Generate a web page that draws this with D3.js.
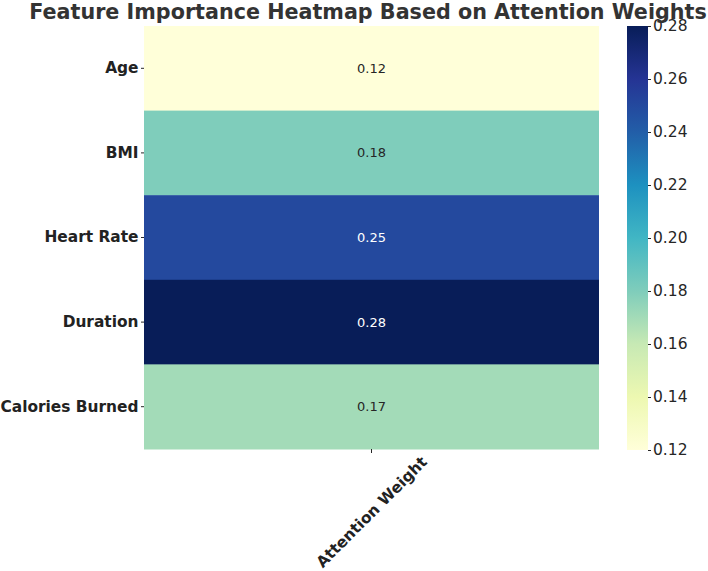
<!DOCTYPE html>
<html>
<head>
<meta charset="utf-8">
<script src="https://cdn.jsdelivr.net/npm/d3@7"></script>
<style>
  body { margin: 0; background: #fff; }
  text { font-family: "DejaVu Sans", sans-serif; }
</style>
</head>
<body>
<svg id="chart" width="708" height="571"></svg>
<script>
const features = ['Age', 'BMI', 'Heart Rate', 'Duration', 'Calories Burned'];
const weights = [0.12, 0.18, 0.25, 0.28, 0.17];
const columns = ['Attention Weight'];
const colorTicks = [0.12, 0.14, 0.16, 0.18, 0.20, 0.22, 0.24, 0.26, 0.28];
const ylgnbu = ['#ffffd9', '#edf8b1', '#c7e9b4', '#7fcdbb', '#41b6c4', '#1d91c0', '#225ea8', '#253494', '#081d58'];

const svg = d3.select('#chart');
const margin = {top: 26, left: 144},
  width = 455,
  height = 423;

const g = svg.append('g').attr('transform', 'translate(' + margin.left + ',' + margin.top + ')');

const vmin = d3.min(weights), vmax = d3.max(weights);
const color = d3.scaleLinear()
  .domain(ylgnbu.map((c, i) => vmin + (vmax - vmin) * i / (ylgnbu.length - 1)))
  .range(ylgnbu)
  .interpolate(d3.interpolateRgb);

const x = d3.scaleBand().domain(columns).range([0, width]);
const y = d3.scaleBand().domain(features).range([0, height]);

g.selectAll('rect.cell')
  .data(features)
  .enter().append('rect')
  .attr('class', 'cell')
  .attr('x', x(columns[0]))
  .attr('y', d => y(d))
  .attr('width', x.bandwidth())
  .attr('height', y.bandwidth() + 0.5)
  .attr('fill', (d, i) => color(weights[i]));

g.selectAll('text.annot')
  .data(features)
  .enter().append('text')
  .attr('class', 'annot')
  .attr('x', x(columns[0]) + x.bandwidth() / 2)
  .attr('y', d => y(d) + y.bandwidth() / 2)
  .attr('dy', '0.35em')
  .attr('text-anchor', 'middle')
  .style('font-size', '13px')
  .attr('fill', (d, i) => (weights[i] - vmin) / (vmax - vmin) > 0.6 ? '#ffffff' : '#262626')
  .text((d, i) => weights[i].toFixed(2));

// y axis
const yAxis = g.append('g').call(d3.axisLeft(y).tickSize(3).tickPadding(2.5));
yAxis.select('.domain').remove();
yAxis.selectAll('line').attr('stroke', '#262626');
yAxis.selectAll('text')
  .style('font-size', '15.4px')
  .style('font-weight', 'bold')
  .attr('fill', '#222');

// x axis
const xAxis = g.append('g')
  .attr('transform', 'translate(0,' + height + ')')
  .call(d3.axisBottom(x).tickSize(4).tickFormat(''));
xAxis.select('.domain').remove();
xAxis.selectAll('line').attr('stroke', '#262626');

const cx = x(columns[0]) + x.bandwidth() / 2;
g.append('text')
  .attr('transform', 'translate(' + cx + ',' + (height + 63) + ') rotate(-45)')
  .attr('text-anchor', 'middle')
  .attr('dy', '0.35em')
  .style('font-size', '15.4px')
  .style('font-weight', 'bold')
  .attr('fill', '#222')
  .text(columns[0]);

// colorbar
const cbX = 627, cbW = 21, cbTop = 26, cbH = 424;
const cy = d3.scaleLinear().domain([vmin, vmax]).range([cbTop + cbH, cbTop]);
const defs = svg.append('defs');
const grad = defs.append('linearGradient')
  .attr('id', 'cbgrad')
  .attr('x1', 0).attr('y1', 1).attr('x2', 0).attr('y2', 0);
grad.selectAll('stop')
  .data(ylgnbu)
  .enter().append('stop')
  .attr('offset', (d, i) => i / (ylgnbu.length - 1))
  .attr('stop-color', d => d);

svg.append('rect')
  .attr('x', cbX).attr('y', cbTop)
  .attr('width', cbW).attr('height', cbH)
  .attr('fill', 'url(#cbgrad)');

const cbAxis = svg.append('g')
  .attr('transform', 'translate(' + (cbX + cbW) + ',0)')
  .call(d3.axisRight(cy).tickValues(colorTicks).tickFormat(d3.format('.2f')).tickSize(3).tickPadding(2));
cbAxis.select('.domain').remove();
cbAxis.selectAll('line').attr('stroke', '#262626');
cbAxis.selectAll('text')
  .style('font-size', '15.5px')
  .attr('fill', '#262626');

// title
svg.append('text')
  .attr('x', 368)
  .attr('y', 19)
  .attr('text-anchor', 'middle')
  .style('font-size', '20.7px')
  .style('font-weight', 'bold')
  .attr('fill', '#333333')
  .text('Feature Importance Heatmap Based on Attention Weights');
</script>
</body>
</html>
